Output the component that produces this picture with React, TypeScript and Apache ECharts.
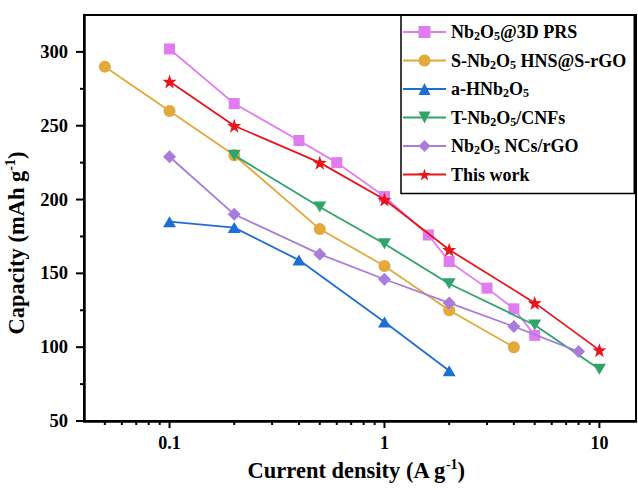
import React, { useEffect, useRef } from "react";
import * as echarts from "echarts";

// ---------- data ----------
const seriesNames = [
  "Nb2O5@3D PRS",
  "S-Nb2O5 HNS@S-rGO",
  "a-HNb2O5",
  "T-Nb2O5/CNFs",
  "Nb2O5 NCs/rGO",
  "This work",
];
const legendLabels = [
  "Nb{s|2}O{s|5}@3D PRS",
  "S-Nb{s|2}O{s|5} HNS@S-rGO",
  "a-HNb{s|2}O{s|5}",
  "T-Nb{s|2}O{s|5}/CNFs",
  "Nb{s|2}O{s|5} NCs/rGO",
  "This work",
];

const prsX = [0.1, 0.2, 0.4, 0.6, 1, 1.6, 2, 3, 4, 5];
const prsY = [302, 265, 240, 225, 202, 176, 158, 140, 126, 108];

const hnsX = [0.05, 0.1, 0.2, 0.5, 1, 2, 4];
const hnsY = [290, 260, 230, 180, 155, 125, 100];

const ahnX = [0.1, 0.2, 0.4, 1, 2];
const ahnY = [185, 181, 159, 117, 84];

const cnfX = [0.2, 0.5, 1, 2, 5, 10];
const cnfY = [230, 195, 170, 143, 115, 85];

const ncsX = [0.1, 0.2, 0.5, 1, 2, 4, 8];
const ncsY = [229, 190, 163, 146, 130, 114, 97];

const workX = [0.1, 0.2, 0.5, 1, 2, 5, 10];
const workY = [280, 250, 225, 200, 166, 130, 98];

const X_MIN = 0.04;
const X_MAX = 14.8;
const Y_MIN = 50;
const Y_MAX = 325;

const xMajorTicks = [0.1, 1, 10];
const xTickLabels = ["0.1", "1", "10"];
const xMinorTicks = [
  0.05, 0.06, 0.07, 0.08, 0.09,
  0.2, 0.3, 0.4, 0.5, 0.6, 0.7, 0.8, 0.9,
  2, 3, 4, 5, 6, 7, 8, 9,
];
const yMajorTicks = [50, 100, 150, 200, 250, 300];
const yTickLabels = ["50", "100", "150", "200", "250", "300"];
const yMinorTicks = [75, 125, 175, 225, 275];

// ---------- styling ----------
const FONT = "'Liberation Serif', 'Times New Roman', serif";
const colors = ["#E07CF0", "#E3A93A", "#1F6ED4", "#2FA46B", "#A97CDB", "#E8141C"];
const STAR =
  "path://M0,-10 L2.35,-3.24 L9.51,-3.09 L3.8,1.24 L5.88,8.09 L0,4 L-5.88,8.09 L-3.8,1.24 L-9.51,-3.09 L-2.35,-3.24 Z";
const symbols: any[] = ["rect", "circle", "triangle", "triangle", "diamond", STAR];
const symbolSizes: any[] = [11, 12, [13, 11], [13, 11], 13, 14];
const symbolRotates = [0, 0, 0, 180, 0, 0];

const MAJOR_LEN = 7;
const MINOR_LEN = 4;

function zip(xs: number[], ys: number[]) {
  return xs.map((x, i) => [x, ys[i]]);
}

function matchLabel(v: number, ticks: number[], labels: string[]) {
  const i = ticks.findIndex((t) => Math.abs(t - v) / t < 1e-6);
  return i >= 0 ? labels[i] : "";
}

export default function App() {
  const ref = useRef<HTMLDivElement>(null);

  useEffect(() => {
    if (!ref.current) return;
    const chart = echarts.init(ref.current, undefined, { renderer: "svg" });

    const dataSets = [
      zip(prsX, prsY),
      zip(hnsX, hnsY),
      zip(ahnX, ahnY),
      zip(cnfX, cnfY),
      zip(ncsX, ncsY),
      zip(workX, workY),
    ];

    const lineSeries = seriesNames.map((name, i) => ({
      name,
      type: "line",
      data: dataSets[i],
      symbol: symbols[i],
      symbolSize: symbolSizes[i],
      symbolRotate: symbolRotates[i],
      lineStyle: { color: colors[i], width: 1.8 },
      itemStyle: { color: colors[i] },
      z: 3 + i,
    }));

    const xTickSeries = {
      type: "custom",
      silent: true,
      clip: false,
      z: 10,
      data: [
        ...xMajorTicks.map((v) => [v, Y_MIN, 1]),
        ...xMinorTicks.map((v) => [v, Y_MIN, 0]),
      ],
      renderItem: (_p: any, api: any) => {
        const pt = api.coord([api.value(0), api.value(1)]);
        const len = api.value(2) ? MAJOR_LEN : MINOR_LEN;
        return {
          type: "line",
          shape: { x1: pt[0], y1: pt[1], x2: pt[0], y2: pt[1] + len },
          style: { stroke: "#000", lineWidth: 2 },
        };
      },
    };

    const yTickSeries = {
      type: "custom",
      silent: true,
      clip: false,
      z: 10,
      data: [
        ...yMajorTicks.map((v) => [X_MIN, v, 1]),
        ...yMinorTicks.map((v) => [X_MIN, v, 0]),
      ],
      renderItem: (_p: any, api: any) => {
        const pt = api.coord([api.value(0), api.value(1)]);
        const len = api.value(2) ? MAJOR_LEN + 1 : MINOR_LEN;
        return {
          type: "line",
          shape: { x1: pt[0] - len, y1: pt[1], x2: pt[0], y2: pt[1] },
          style: { stroke: "#000", lineWidth: 2 },
        };
      },
    };

    const subStyle = {
      fontFamily: FONT,
      fontWeight: "bold",
      fontSize: 12,
      color: "#000",
      verticalAlign: "bottom",
      lineHeight: 9,
    };
    const supStyle = {
      fontFamily: FONT,
      fontWeight: "bold",
      fontSize: 14,
      color: "#000",
      verticalAlign: "top",
      lineHeight: 14,
    };

    chart.setOption({
      animation: false,
      backgroundColor: "#fff",
      grid: {
        left: 84,
        top: 15,
        right: 2,
        bottom: 69,
        outerBoundsMode: "none",
        containLabel: false,
        show: true,
        borderColor: "#000",
        borderWidth: 2,
      },
      legend: {
        orient: "vertical",
        left: 401,
        top: 15,
        itemWidth: 43,
        itemHeight: 15,
        itemGap: 8.5,
        padding: [7, 8, 9, 1],
        borderColor: "#000",
        borderWidth: 1.5,
        selectedMode: false,
        data: seriesNames,
        formatter: (name: string) => legendLabels[seriesNames.indexOf(name)],
        textStyle: {
          fontFamily: FONT,
          fontWeight: "bold",
          fontSize: 18,
          color: "#000",
          lineHeight: 20,
          rich: { s: subStyle },
        },
      },
      xAxis: {
        type: "log",
        logBase: 10,
        min: X_MIN,
        max: X_MAX,
        name: "Current density (A g{sup|-1})",
        nameLocation: "middle",
        nameGap: 36,
        nameTextStyle: {
          fontFamily: FONT,
          fontWeight: "bold",
          fontSize: 22.5,
          color: "#000",
          lineHeight: 26,
          padding: [0, 8, 0, 0],
          rich: { sup: supStyle },
        },
        axisLine: { onZero: false, lineStyle: { color: "#000", width: 2.5 } },
        axisTick: { show: false },
        minorTick: { show: false },
        splitLine: { show: false },
        axisLabel: {
          showMinLabel: false,
          showMaxLabel: false,
          margin: 13,
          fontFamily: FONT,
          fontWeight: "bold",
          fontSize: 18,
          color: "#000",
          formatter: (v: number) => matchLabel(v, xMajorTicks, xTickLabels),
        },
      },
      yAxis: {
        type: "value",
        min: Y_MIN,
        max: Y_MAX,
        interval: 50,
        name: "Capacity (mAh g{sup|-1})",
        nameLocation: "middle",
        nameGap: 41,
        nameTextStyle: {
          fontFamily: FONT,
          fontWeight: "bold",
          fontSize: 22.5,
          color: "#000",
          lineHeight: 26,
          padding: [0, 50, 0, 0],
          rich: { sup: supStyle },
        },
        axisLine: { onZero: false, lineStyle: { color: "#000", width: 2.5 } },
        axisTick: { show: false },
        splitLine: { show: false },
        axisLabel: {
          showMaxLabel: false,
          margin: 16,
          fontFamily: FONT,
          fontWeight: "bold",
          fontSize: 18.5,
          color: "#000",
          formatter: (v: number) => matchLabel(v, yMajorTicks, yTickLabels),
        },
      },
      series: [...lineSeries, xTickSeries, yTickSeries],
    });

    return () => chart.dispose();
  }, []);

  return (
    <div
      ref={ref}
      style={{ position: "absolute", left: 0, top: 0, width: 638, height: 490 }}
    />
  );
}
